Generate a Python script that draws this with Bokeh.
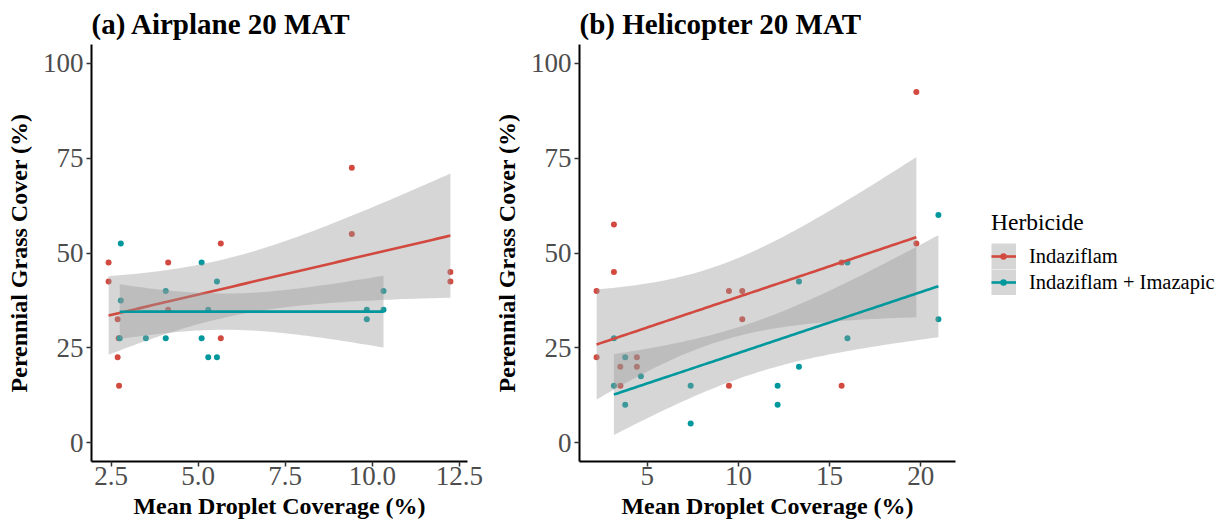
import math
import numpy as np
from bokeh.plotting import figure
from bokeh.layouts import row
from bokeh.models import Range1d, FixedTicker, Legend, LegendItem
from bokeh.embed import file_html
from bokeh.resources import INLINE

# ---------------- data ----------------
# (a) Airplane 20 MAT
a_ind_x = [2.43, 2.43, 2.69, 2.72, 2.69, 2.73, 4.14, 4.14, 5.65, 5.65, 9.41, 9.41, 12.24, 12.24]
a_ind_y = [47.5, 42.5, 32.5, 27.5, 22.5, 15.0, 47.5, 35.0, 52.5, 27.5, 72.5, 55.0, 45.0, 42.5]
a_imz_x = [2.78, 2.78, 2.75, 3.50, 4.07, 4.07, 5.10, 5.10, 5.29, 5.29, 5.54, 5.54, 9.84, 9.84, 10.32, 10.32]
a_imz_y = [52.5, 37.5, 27.5, 27.5, 40.0, 27.5, 47.5, 27.5, 35.0, 22.5, 42.5, 22.5, 35.0, 32.5, 40.0, 35.0]

# (b) Helicopter 20 MAT
b_ind_x = [2.22, 2.22, 3.17, 3.17, 3.52, 3.53, 4.43, 4.43, 9.48, 10.21, 10.21, 9.48, 15.66, 15.66, 19.76, 19.76]
b_ind_y = [40.0, 22.5, 57.5, 45.0, 20.0, 15.0, 22.5, 20.0, 40.0, 40.0, 32.5, 15.0, 47.5, 15.0, 92.5, 52.5]
b_imz_x = [3.17, 3.17, 3.79, 3.79, 4.65, 7.38, 7.38, 12.15, 12.15, 13.32, 13.32, 15.98, 15.98, 20.97, 20.97]
b_imz_y = [27.5, 15.0, 22.5, 10.0, 17.5, 15.0, 5.0, 15.0, 10.0, 42.5, 20.0, 47.5, 27.5, 60.0, 32.5]

titles = ["(a) Airplane 20 MAT", "(b) Helicopter 20 MAT"]
series_names = ["Indaziflam", "Indaziflam + Imazapic"]
legend_title = "Herbicide"
a_xticks = [2.5, 5.0, 7.5, 10.0, 12.5]
a_xtick_labels = ["2.5", "5.0", "7.5", "10.0", "12.5"]
b_xticks = [5, 10, 15, 20]
b_xtick_labels = ["5", "10", "15", "20"]
yticks = [0, 25, 50, 75, 100]
ytick_labels = ["0", "25", "50", "75", "100"]

RED = "#D2493F"
TEAL = "#00989C"
COLORS = [RED, TEAL]
FONT = "Liberation Serif"
H = 527


def t_ppf(p, df):
    xs = np.linspace(0, 12, 240001)
    c = math.gamma((df + 1) / 2) / (math.sqrt(df * math.pi) * math.gamma(df / 2))
    pdf = c * (1 + xs ** 2 / df) ** (-(df + 1) / 2)
    cdf = 0.5 + np.concatenate([[0], np.cumsum((pdf[1:] + pdf[:-1]) / 2 * np.diff(xs))])
    return float(np.interp(p, cdf, xs))


def lm_band(x, y, npts=80):
    x = np.asarray(x, float)
    y = np.asarray(y, float)
    n = len(x)
    b, a = np.polyfit(x, y, 1)
    resid = y - (a + b * x)
    s = math.sqrt(np.sum(resid ** 2) / (n - 2))
    xbar = x.mean()
    sxx = np.sum((x - xbar) ** 2)
    gx = np.linspace(x.min(), x.max(), npts)
    fit = a + b * gx
    se = s * np.sqrt(1 / n + (gx - xbar) ** 2 / sxx)
    t = t_ppf(0.975, n - 2)
    return gx, fit, fit - t * se, fit + t * se


def make_panel(title, xs_list, ys_list, xticks, xlabels, width, min_right):
    allx = np.concatenate([np.asarray(v, float) for v in xs_list])
    lo, hi = allx.min(), allx.max()
    pad = (hi - lo) * 0.05
    p = figure(width=width, height=H, output_backend="svg", toolbar_location=None,
               x_range=Range1d(lo - pad, hi + pad), y_range=Range1d(-5, 105),
               min_border_left=91, min_border_right=min_right,
               min_border_top=44, min_border_bottom=H - 461)
    p.outline_line_color = None
    p.grid.visible = False
    p.background_fill_color = "white"
    p.border_fill_color = "white"

    p.title.text = title
    p.title.text_font = FONT
    p.title.text_font_style = "bold"
    p.title.text_font_size = "29px"
    p.title.text_color = "black"
    p.title.standoff = 10
    p.title.offset = 0

    for ax in (p.xaxis[0], p.yaxis[0]):
        ax.axis_line_color = "black"
        ax.axis_line_width = 2
        ax.major_tick_line_color = "#333333"
        ax.major_tick_line_width = 1.5
        ax.major_tick_out = 5
        ax.major_tick_in = 0
        ax.minor_tick_line_color = None
        ax.major_label_text_font = FONT
        ax.major_label_text_font_size = "27px"
        ax.major_label_text_color = "#4D4D4D"
        ax.axis_label_text_font = FONT
        ax.axis_label_text_font_style = "bold"
        ax.axis_label_text_font_size = "24px"
        ax.axis_label_text_color = "black"

    p.xaxis.ticker = FixedTicker(ticks=xticks)
    p.xaxis.major_label_overrides = {t: l for t, l in zip(xticks, xlabels)}
    p.yaxis.ticker = FixedTicker(ticks=yticks)
    p.yaxis.major_label_overrides = {t: l for t, l in zip(yticks, ytick_labels)}
    p.xaxis.axis_label = "Mean Droplet Coverage (%)"
    p.yaxis.axis_label = "Perennial Grass Cover (%)"
    p.xaxis.major_label_standoff = 0
    p.yaxis.major_label_standoff = 3
    p.xaxis.axis_label_standoff = 5
    p.yaxis.axis_label_standoff = 8

    # points first (below the ribbons)
    for xs, ys, c in zip(xs_list, ys_list, COLORS):
        p.scatter(xs, ys, size=6, color=c, line_color=None)
    for xs, ys, c in zip(xs_list, ys_list, COLORS):
        gx, fit, low, up = lm_band(xs, ys)
        p.varea(x=gx, y1=low, y2=up, fill_color="#999999", fill_alpha=0.4)
        p.line(gx, fit, line_color=c, line_width=2.6)
    return p


pa = make_panel(titles[0], [a_ind_x, a_imz_x], [a_ind_y, a_imz_y],
                a_xticks, a_xtick_labels, width=488, min_right=21)
pb = make_panel(titles[1], [b_ind_x, b_imz_x], [b_ind_y, b_imz_y],
                b_xticks, b_xtick_labels, width=487, min_right=20)

# ---------------- legend panel ----------------
W3 = 1224 - 488 - 487
pl = figure(width=W3, height=H, output_backend="svg", toolbar_location=None,
            x_range=Range1d(0, 1), y_range=Range1d(0, 1),
            min_border=0)
pl.axis.visible = False
pl.grid.visible = False
pl.outline_line_color = None
pl.border_fill_color = "white"

# legend-key renderers: their data sits outside the visible range, only the keys show
off = [5, 6]
items = []
for name, c in zip(series_names, COLORS):
    key_bg = pl.line(x=off, y=off, line_color="#999999", line_alpha=0.4, line_width=26, line_cap="butt")
    key_line = pl.line(x=off, y=off, line_color=c, line_width=2.6)
    key_dot = pl.line(x=off, y=off, line_color=c, line_width=6.5, line_cap="round",
                      line_dash="0 200", line_dash_offset=-12)
    items.append(LegendItem(label=name, renderers=[key_bg, key_line, key_dot]))

leg = Legend(items=items, title=legend_title, location=(16, 461 - 295))
leg.title_text_font = FONT
leg.title_text_font_size = "23.5px"
leg.title_text_font_style = "normal"
leg.title_text_color = "black"
leg.title_standoff = 7
leg.label_text_font = FONT
leg.label_text_font_size = "20.5px"
leg.label_text_color = "black"
leg.glyph_width = 25
leg.glyph_height = 26
leg.label_height = 26
leg.spacing = 0
leg.label_standoff = 13
leg.padding = 0
leg.margin = 0
leg.border_line_color = None
leg.background_fill_alpha = 0
pl.add_layout(leg, "center")

layout = row(pa, pb, pl)
open("out.html", "w").write(file_html(layout, INLINE))
